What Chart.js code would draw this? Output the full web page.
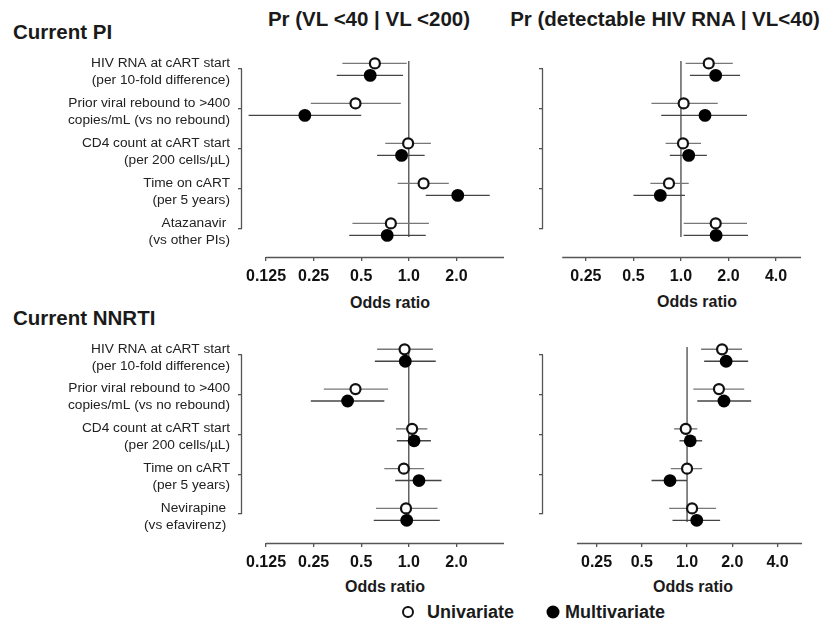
<!DOCTYPE html>
<html>
<head>
<meta charset="utf-8">
<script src="https://cdn.jsdelivr.net/npm/chart.js@4.4.1/dist/chart.umd.min.js"></script>
<style>
  body { margin: 0; width: 823px; height: 623px; background: #fff; position: relative; overflow: hidden;
         font-family: "Liberation Sans", Arial, sans-serif; color: #1a1a1a; }
  canvas { position: absolute; }
  .txt { position: absolute; font-weight: bold; white-space: nowrap; line-height: 1; }
  .mid { transform: translate(-50%, -50%); }
  .lft { transform: translateY(-50%); }
  .sym { position: absolute; border-radius: 50%; box-sizing: border-box; transform: translate(-50%, -50%); }
</style>
</head>
<body>
<div class="txt lft" style="left:13px; top:32px; font-size:20.5px;">Current PI</div>
<div class="txt lft" style="left:13px; top:318px; font-size:20.5px;">Current NNRTI</div>
<div class="txt mid" style="left:369px; top:19px; font-size:20.5px;">Pr (VL &lt;40 | VL &lt;200)</div>
<div class="txt mid" style="left:665px; top:19px; font-size:20.5px;">Pr (detectable HIV RNA | VL&lt;40)</div>
<div class="txt mid" style="left:390px; top:303px; font-size:16px;">Odds ratio</div>
<div class="txt mid" style="left:697px; top:302px; font-size:16px;">Odds ratio</div>
<div class="txt mid" style="left:385px; top:587px; font-size:16px;">Odds ratio</div>
<div class="txt mid" style="left:693px; top:587px; font-size:16px;">Odds ratio</div>

<div class="sym" style="left:408px; top:612px; width:12px; height:12px; border:2.5px solid #111; background:#fff;"></div>
<div class="txt lft" style="left:427px; top:612px; font-size:18px;">Univariate</div>
<div class="sym" style="left:553px; top:612px; width:13px; height:13px; background:#000;"></div>
<div class="txt lft" style="left:565px; top:612px; font-size:18px;">Multivariate</div>

<canvas id="piVL" width="520" height="277" style="left:0px; top:20px;"></canvas>
<canvas id="piDet" width="303" height="277" style="left:520px; top:20px;"></canvas>
<canvas id="nnVL" width="520" height="277" style="left:0px; top:306px;"></canvas>
<canvas id="nnDet" width="303" height="277" style="left:520px; top:306px;"></canvas>

<script>
// row labels
const rowsPI = [
    ['HIV RNA at cART start', '(per 10-fold difference)'],
    ['Prior viral rebound to >400', 'copies/mL (vs no rebound)'],
    ['CD4 count at cART start', '(per 200 cells/\u00b5L)'],
    ['Time on cART', '(per 5 years)'],
    ['Atazanavir ', '(vs other PIs)']
];
const rowsNNRTI = [
    ['HIV RNA at cART start', '(per 10-fold difference)'],
    ['Prior viral rebound to >400', 'copies/mL (vs no rebound)'],
    ['CD4 count at cART start', '(per 200 cells/\u00b5L)'],
    ['Time on cART', '(per 5 years)'],
    ['Nevirapine ', '(vs efavirenz) ']
];

// x tick labels
const ticksVL = [0.125, 0.25, 0.5, 1, 2];
const tickLabelsVL = ['0.125', '0.25', '0.5', '1.0', '2.0'];
const ticksDet = [0.25, 0.5, 1, 2, 4];
const tickLabelsDet = ['0.25', '0.5', '1.0', '2.0', '4.0'];

// Current PI - Pr (VL <40 | VL <200)
const piVL_uniOR = [0.61, 0.46, 0.99, 1.24, 0.77];
const piVL_uniLo = [0.38, 0.24, 0.71, 0.85, 0.44];
const piVL_uniHi = [0.97, 0.89, 1.38, 1.79, 1.34];
const piVL_multiOR = [0.57, 0.22, 0.90, 2.04, 0.73];
const piVL_multiLo = [0.35, 0.097, 0.63, 1.28, 0.42];
const piVL_multiHi = [0.92, 0.50, 1.26, 3.25, 1.28];

// Current PI - Pr (detectable HIV RNA | VL<40)
const piDet_uniOR = [1.50, 1.04, 1.03, 0.84, 1.66];
const piDet_uniLo = [1.07, 0.65, 0.80, 0.64, 1.04];
const piDet_uniHi = [2.13, 1.71, 1.34, 1.12, 2.62];
const piDet_multiOR = [1.66, 1.42, 1.12, 0.74, 1.67];
const piDet_multiLo = [1.14, 0.75, 0.85, 0.50, 1.04];
const piDet_multiHi = [2.37, 2.62, 1.46, 1.06, 2.66];

// Current NNRTI - Pr (VL <40 | VL <200)
const nnVL_uniOR = [0.94, 0.46, 1.05, 0.93, 0.96];
const nnVL_uniLo = [0.63, 0.29, 0.83, 0.70, 0.62];
const nnVL_uniHi = [1.42, 0.74, 1.31, 1.25, 1.52];
const nnVL_multiOR = [0.95, 0.41, 1.08, 1.16, 0.97];
const nnVL_multiLo = [0.61, 0.24, 0.84, 0.82, 0.60];
const nnVL_multiHi = [1.48, 0.70, 1.38, 1.61, 1.57];

// Current NNRTI - Pr (detectable HIV RNA | VL<40)
const nnDet_uniOR = [1.71, 1.63, 0.98, 1.00, 1.08];
const nnDet_uniLo = [1.24, 1.10, 0.82, 0.78, 0.76];
const nnDet_uniHi = [2.32, 2.40, 1.17, 1.26, 1.56];
const nnDet_multiOR = [1.82, 1.76, 1.05, 0.77, 1.16];
const nnDet_multiLo = [1.30, 1.17, 0.89, 0.58, 0.80];
const nnDet_multiHi = [2.55, 2.67, 1.26, 1.00, 1.66];

const UNI_SHIFT = -0.14;
const MULTI_SHIFT = 0.16;

Chart.defaults.font.family = '"Liberation Sans", Arial, sans-serif';
Chart.defaults.color = '#1a1a1a';

// axis lines that do not meet at the corner
const detachedAxes = {
    id: 'detachedAxes',
    afterDraw(chart, args, opts) {
        const { ctx, chartArea, scales } = chart;
        ctx.save();
        ctx.strokeStyle = '#555';
        ctx.lineWidth = 1.3;
        ctx.beginPath();
        ctx.moveTo(scales.x.getPixelForValue(opts.from), chartArea.bottom + 0.5);
        ctx.lineTo(scales.x.getPixelForValue(opts.to), chartArea.bottom + 0.5);
        ctx.moveTo(chartArea.left - 0.5, scales.y.getPixelForValue(0));
        ctx.lineTo(chartArea.left - 0.5, scales.y.getPixelForValue(opts.rows - 1));
        ctx.stroke();
        ctx.restore();
    }
};

function ciLines(lo, hi, shift, color) {
    return lo.map((l, i) => ({
        type: 'scatter',
        showLine: true,
        data: [{ x: l, y: i + shift }, { x: hi[i], y: i + shift }],
        borderColor: color,
        borderWidth: 1.4,
        pointRadius: 0,
        order: 2
    }));
}

function makePanel(id, cfg) {
    const n = cfg.uniOR.length;
    const datasets = [
        {
            type: 'scatter', showLine: true,
            data: [{ x: 1, y: -0.2 }, { x: 1, y: n - 1 + 0.2 }],
            borderColor: '#3a3a3a', borderWidth: 1.2, pointRadius: 0, order: 3
        },
        ...ciLines(cfg.uniLo, cfg.uniHi, UNI_SHIFT, '#777'),
        ...ciLines(cfg.multiLo, cfg.multiHi, MULTI_SHIFT, '#444'),
        {
            type: 'scatter',
            data: cfg.uniOR.map((v, i) => ({ x: v, y: i + UNI_SHIFT })),
            pointRadius: 5, borderWidth: 2.2, borderColor: '#111', backgroundColor: '#fff', order: 1
        },
        {
            type: 'scatter',
            data: cfg.multiOR.map((v, i) => ({ x: v, y: i + MULTI_SHIFT })),
            pointRadius: 6.4, borderWidth: 0, backgroundColor: '#000', order: 0
        }
    ];

    new Chart(document.getElementById(id), {
        type: 'scatter',
        data: { datasets },
        options: {
            responsive: false,
            animation: false,
            events: [],
            layout: { padding: { top: 29, right: cfg.padRight, bottom: 0, left: 0 } },
            plugins: {
                legend: { display: false },
                tooltip: { enabled: false },
                detachedAxes: { from: cfg.axisFrom, to: cfg.axisTo, rows: n }
            },
            scales: {
                x: {
                    type: 'logarithmic',
                    min: cfg.xMin,
                    max: cfg.xMax,
                    border: { display: false },
                    grid: { drawOnChartArea: false, drawTicks: true, tickLength: 4, color: '#555', lineWidth: 1.3 },
                    afterBuildTicks: s => { s.ticks = cfg.ticks.map(v => ({ value: v })); },
                    afterFit: s => { s.height = 40; },
                    ticks: {
                        autoSkip: false, maxRotation: 0, padding: 6,
                        font: { size: 16, weight: 'bold' }, color: '#111',
                        callback: (v, i) => cfg.tickLabels[i]
                    }
                },
                y: {
                    type: 'linear',
                    reverse: true,
                    min: -0.5,
                    max: cfg.yMax,
                    border: { display: false },
                    grid: { drawOnChartArea: false, drawTicks: true, tickLength: 4, color: '#555', lineWidth: 1.3 },
                    afterBuildTicks: s => { s.ticks = cfg.uniOR.map((v, i) => ({ value: i })); },
                    afterFit: s => { s.width = cfg.yWidth; },
                    ticks: {
                        autoSkip: false, padding: 8, labelOffset: 2.5,
                        font: { size: 13.7, lineHeight: 1.24 }, color: '#222',
                        callback: v => cfg.rows ? cfg.rows[v] : ''
                    }
                }
            }
        },
        plugins: [detachedAxes]
    });
}

makePanel('piVL', {
    rows: rowsPI, ticks: ticksVL, tickLabels: tickLabelsVL,
    xMin: 0.0881, xMax: 4.0, axisFrom: 0.125, axisTo: 4.0, yMax: 4.7,
    yWidth: 242, padRight: 16,
    uniOR: piVL_uniOR, uniLo: piVL_uniLo, uniHi: piVL_uniHi,
    multiOR: piVL_multiOR, multiLo: piVL_multiLo, multiHi: piVL_multiHi
});
makePanel('piDet', {
    rows: null, ticks: ticksDet, tickLabels: tickLabelsDet,
    xMin: 0.1337, xMax: 5.76, axisFrom: 0.177, axisTo: 5.76, yMax: 4.7,
    yWidth: 23, padRight: 22,
    uniOR: piDet_uniOR, uniLo: piDet_uniLo, uniHi: piDet_uniHi,
    multiOR: piDet_multiOR, multiLo: piDet_multiLo, multiHi: piDet_multiHi
});
makePanel('nnVL', {
    rows: rowsNNRTI, ticks: ticksVL, tickLabels: tickLabelsVL,
    xMin: 0.0881, xMax: 4.0, axisFrom: 0.125, axisTo: 4.0, yMax: 4.73,
    yWidth: 242, padRight: 16,
    uniOR: nnVL_uniOR, uniLo: nnVL_uniLo, uniHi: nnVL_uniHi,
    multiOR: nnVL_multiOR, multiLo: nnVL_multiLo, multiHi: nnVL_multiHi
});
makePanel('nnDet', {
    rows: null, ticks: ticksDet, tickLabels: tickLabelsDet,
    xMin: 0.110, xMax: 5.82, axisFrom: 0.185, axisTo: 5.82, yMax: 4.73,
    yWidth: 23, padRight: 21,
    uniOR: nnDet_uniOR, uniLo: nnDet_uniLo, uniHi: nnDet_uniHi,
    multiOR: nnDet_multiOR, multiLo: nnDet_multiLo, multiHi: nnDet_multiHi
});
</script>
</body>
</html>
